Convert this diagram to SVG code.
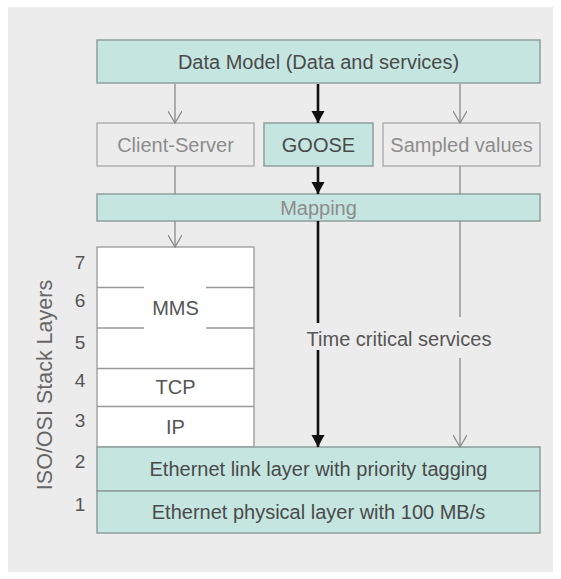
<svg xmlns="http://www.w3.org/2000/svg" width="561" height="579" viewBox="0 0 561 579">
<style>
text{font-family:"Liberation Sans",Arial,sans-serif;font-size:20px;text-anchor:middle}
.dark{fill:#4a4a4a}
.gray{fill:#8c8c8c}
.num{fill:#555;font-size:19px}
.teal{fill:#c5e5e0;stroke:#8e9e9c;stroke-width:1.5}
.plain{fill:#ececec;stroke:#a8a8a8;stroke-width:1.3}
.stack{fill:#fff;stroke:#999;stroke-width:1.3}
.thin{stroke:#8a8a8a;stroke-width:1.3;fill:none}
.thick{stroke:#111;stroke-width:2.6;fill:none}
.row{stroke:#999;stroke-width:1.3}
</style>
<defs>
<marker id="open" markerUnits="userSpaceOnUse" markerWidth="16" markerHeight="14" refX="13" refY="7" orient="auto" viewBox="0 0 16 14">
<path d="M1,0 L13,7 L1,14" fill="none" stroke="#8a8a8a" stroke-width="1.3"/>
</marker>
<marker id="solid" markerUnits="userSpaceOnUse" markerWidth="13" markerHeight="14" refX="12" refY="6.5" orient="auto" viewBox="0 0 13 14">
<path d="M0,0 L12,6.5 L0,13 Z" fill="#111"/>
</marker>
</defs>
<rect x="8" y="7" width="545" height="565" fill="#ececec"/>

<g id="datamodel"><rect class="teal" x="97" y="40" width="443" height="43"/><text class="dark" x="318.5" y="68.5">Data Model (Data and services)</text></g>
<g id="clientserver"><rect class="plain" x="97" y="123" width="157" height="43"/><text class="gray" x="175.5" y="151.5">Client-Server</text></g>
<g id="goose"><rect class="teal" x="264" y="123" width="109" height="43"/><text class="dark" x="318.5" y="151.5">GOOSE</text></g>
<g id="sampled"><rect class="plain" x="383" y="123" width="157" height="43"/><text class="gray" x="461.5" y="151.5">Sampled values</text></g>
<g id="mapping"><rect class="teal" x="97" y="194" width="443" height="27"/><text class="gray" x="318.5" y="214.5">Mapping</text></g>

<g id="stack">
<rect class="stack" x="97" y="247" width="157" height="200"/>
<line class="row" x1="97" y1="287.5" x2="144" y2="287.5"/>
<line class="row" x1="206" y1="287.5" x2="254" y2="287.5"/>
<line class="row" x1="97" y1="328" x2="144" y2="328"/>
<line class="row" x1="206" y1="328" x2="254" y2="328"/>
<line class="row" x1="97" y1="368.5" x2="254" y2="368.5"/>
<line class="row" x1="97" y1="406.5" x2="254" y2="406.5"/>
<text x="175.5" y="315" fill="#555">MMS</text>
<text x="175.5" y="394" fill="#555">TCP</text>
<text x="175.5" y="434" fill="#555">IP</text>
</g>
<g id="ethlink"><rect class="teal" x="97" y="447" width="443" height="44"/><text class="dark" x="318.5" y="476">Ethernet link layer with priority tagging</text></g>
<g id="ethphys"><rect class="teal" x="97" y="491" width="443" height="42"/><text class="dark" x="318.5" y="519">Ethernet physical layer with 100 MB/s</text></g>

<g id="layers">
<text class="num" x="80" y="269">7</text>
<text class="num" x="80" y="307">6</text>
<text class="num" x="80" y="349">5</text>
<text class="num" x="80" y="387">4</text>
<text class="num" x="80" y="427">3</text>
<text class="num" x="80" y="468">2</text>
<text class="num" x="80" y="511">1</text>
<text fill="#666" transform="translate(52,385) rotate(-90)" style="font-size:21.5px">ISO/OSI Stack Layers</text>
</g>

<g id="connectors">
<line class="thin" x1="175" y1="84" x2="175" y2="123" marker-end="url(#open)"/>
<line class="thick" x1="318" y1="84" x2="318" y2="123" marker-end="url(#solid)"/>
<line class="thin" x1="460" y1="84" x2="460" y2="123" marker-end="url(#open)"/>
<line class="thin" x1="175" y1="166" x2="175" y2="194"/>
<line class="thick" x1="318" y1="167" x2="318" y2="194" marker-end="url(#solid)"/>
<line class="thin" x1="460" y1="166" x2="460" y2="194"/>
<line class="thin" x1="175" y1="221" x2="175" y2="247" marker-end="url(#open)"/>
<line class="thick" x1="318" y1="221" x2="318" y2="323"/>
<line class="thick" x1="318" y1="350" x2="318" y2="447" marker-end="url(#solid)"/>
<line class="thin" x1="460" y1="221" x2="460" y2="317"/>
<line class="thin" x1="460" y1="358" x2="460" y2="447" marker-end="url(#open)"/>
<text x="399" y="346" fill="#555">Time critical services</text>
</g>
</svg>
